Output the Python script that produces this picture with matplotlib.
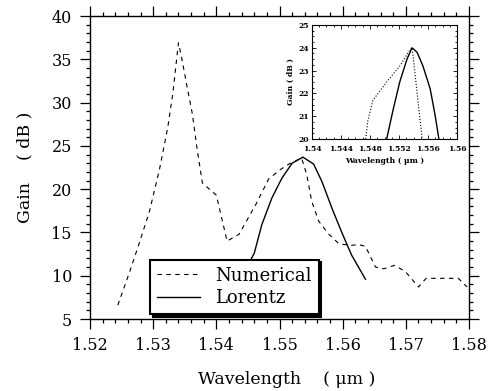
import numpy as np
import matplotlib
matplotlib.use('Agg')
import matplotlib.pyplot as plt
from matplotlib import rcParams
from matplotlib.ticker import MultipleLocator

rcParams['font.family'] = 'DejaVu Serif'
rcParams['mathtext.fontset'] = 'dejavuserif'

# Numerical gain spectrum (main panel)
wl_num = [1.5244, 1.5263, 1.5279, 1.5294, 1.5310, 1.5323, 1.5331, 1.5340,
          1.5345, 1.5354, 1.5362, 1.5370, 1.5378, 1.5400, 1.5417, 1.5436,
          1.5463, 1.5483, 1.5502, 1.5515, 1.5535, 1.5543, 1.5551, 1.5562,
          1.5578, 1.5594, 1.5613, 1.5625, 1.5636, 1.5652, 1.5665, 1.5682,
          1.5699, 1.5720, 1.5732, 1.5746, 1.5767, 1.5783, 1.5797]
gain_num = [6.6, 10.5, 14.0, 17.4, 22.3, 27.1, 31.0, 36.9,
            35.2, 31.7, 28.7, 24.4, 20.7, 19.3, 14.0, 14.8,
            18.3, 21.2, 22.3, 22.9, 23.6, 21.7, 18.6, 16.3,
            14.8, 13.7, 13.5, 13.6, 13.4, 11.0, 10.8, 11.2,
            10.5, 8.7, 9.7, 9.7, 9.7, 9.7, 8.7]

# Lorentz fit (main panel)
wl_lor = [1.5438, 1.5460, 1.5472, 1.5488, 1.5504, 1.5520, 1.5537,
          1.5554, 1.5567, 1.5583, 1.5598, 1.5614, 1.5636]
gain_lor = [9.6, 12.6, 15.9, 19.0, 21.3, 23.0, 23.7,
            22.9, 20.9, 17.8, 15.1, 12.4, 9.6]

# Inset (zoom on the peak)
in_wl_num = [1.5474, 1.5477, 1.5484, 1.5503, 1.5521, 1.5535, 1.5538,
             1.5542, 1.5546, 1.5552]
in_gain_num = [20.0, 20.8, 21.7, 22.5, 23.2, 23.9, 24.0, 22.9, 21.7, 20.0]
in_wl_lor = [1.5503, 1.5512, 1.5521, 1.5531, 1.5538, 1.5545, 1.5553,
             1.5563, 1.5570, 1.5575]
in_gain_lor = [20.0, 21.3, 22.5, 23.5, 24.0, 23.8, 23.2, 22.2, 21.0, 20.0]

main_xticks = [1.52, 1.53, 1.54, 1.55, 1.56, 1.57, 1.58]
inset_xticks = [1.54, 1.544, 1.548, 1.552, 1.556, 1.56]
inset_xlabels = ['1.54', '1.544', '1.548', '1.552', '1.556', '1.56']

fig = plt.figure(figsize=(4.9, 3.91), dpi=100)
ax = fig.add_axes([0.1837, 0.1841, 0.7735, 0.7749])

ax.plot(wl_num, gain_num, color='black', lw=0.8, ls=(0, (4, 4)),
        label='Numerical')
ax.plot(wl_lor, gain_lor, color='black', lw=1.0, label='Lorentz')

ax.set_xlim(1.52, 1.58)
ax.set_ylim(5, 40)
ax.set_xticks(main_xticks)
ax.set_xticklabels(['%.2f' % v for v in main_xticks])
ax.xaxis.set_minor_locator(MultipleLocator(0.002))
ax.yaxis.set_major_locator(MultipleLocator(5))
ax.yaxis.set_minor_locator(MultipleLocator(1))
ax.tick_params(which='both', direction='out', top=True, right=True,
               labelsize=11.5, width=0.9)
ax.tick_params(which='major', length=7, pad=6)
ax.tick_params(which='minor', length=3)
for s in ax.spines.values():
    s.set_linewidth(1.0)

ax.set_xlabel('Wavelength    ( μm )', fontsize=12.5)
ax.set_ylabel('Gain    ( dB )', fontsize=12.5)
ax.xaxis.set_label_coords(0.52, -0.17)
ax.yaxis.set_label_coords(-0.15, 0.5)

leg = ax.legend(loc='lower left', bbox_to_anchor=(0.158, 0.015),
                borderaxespad=0, fancybox=False, fontsize=13,
                handlelength=2.4, labelspacing=0.25, borderpad=0.4,
                shadow={'color': 'black', 'alpha': 1})
leg.get_frame().set_edgecolor('black')
leg.get_frame().set_linewidth(1.5)

# Inset
axi = fig.add_axes([0.6367, 0.6445, 0.296, 0.2916])
axi.plot(in_wl_num, in_gain_num, color='black', lw=0.8, ls=':')
axi.plot(in_wl_lor, in_gain_lor, color='black', lw=1.0)
axi.set_xlim(1.54, 1.56)
axi.set_ylim(20, 25)
axi.set_xticks(inset_xticks)
axi.set_xticklabels(inset_xlabels, fontweight='bold')
axi.set_yticks(range(20, 26))
axi.set_yticklabels([str(v) for v in range(20, 26)], fontweight='bold')
axi.xaxis.set_minor_locator(MultipleLocator(0.001))
axi.yaxis.set_minor_locator(MultipleLocator(0.25))
axi.tick_params(which='both', direction='in', top=True, right=True,
                labelsize=5.5, width=0.6)
axi.tick_params(axis='x', pad=4)
axi.tick_params(axis='y', pad=2)
axi.tick_params(which='major', length=3)
axi.tick_params(which='minor', length=1.5)
axi.set_xlabel('Wavelength ( μm )', fontsize=5.5, fontweight='bold',
               labelpad=3)
axi.set_ylabel('Gain ( dB )', fontsize=5.5, fontweight='bold', labelpad=3)
for s in axi.spines.values():
    s.set_linewidth(0.8)

plt.savefig('out.png', dpi=100)
